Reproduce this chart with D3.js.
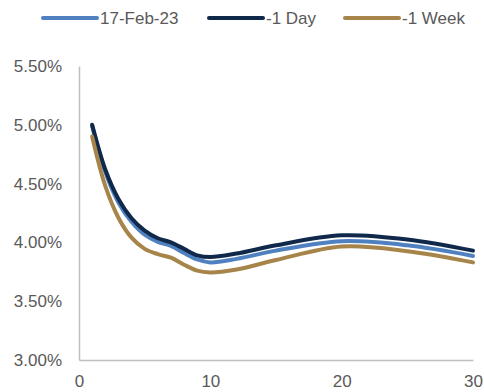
<!DOCTYPE html>
<html>
<head>
<meta charset="utf-8">
<script src="https://cdn.jsdelivr.net/npm/d3@7"></script>
<style>
  html, body { margin: 0; padding: 0; background: #fff; }
  svg { display: block; }
  text { font-family: "Liberation Sans", Arial, sans-serif; }
</style>
</head>
<body>
<svg id="chart" width="484" height="392"></svg>
<script>
// ---- data ----
const maturities = [1, 2, 3, 4, 5, 6, 7, 8, 9, 10, 12, 15, 20, 25, 30];
const seriesNames = ["17-Feb-23", "-1 Day", "-1 Week"];
const feb17 = [4.99, 4.60, 4.34, 4.175, 4.065, 4.005, 3.97, 3.91, 3.855, 3.83, 3.86, 3.93, 4.01, 3.975, 3.885];
const day1  = [5.00, 4.62, 4.37, 4.205, 4.10, 4.035, 4.00, 3.945, 3.89, 3.875, 3.905, 3.975, 4.06, 4.025, 3.93];
const week1 = [4.90, 4.48, 4.21, 4.04, 3.945, 3.90, 3.87, 3.81, 3.76, 3.745, 3.77, 3.85, 3.965, 3.925, 3.83];
const yTicks = [3.0, 3.5, 4.0, 4.5, 5.0, 5.5];
const xTicks = [0, 10, 20, 30];
const colors = ["#4f81c0", "#10294b", "#a6844a"];

// ---- chart ----
const svg = d3.select("#chart");
const x = d3.scaleLinear().domain([0, 30]).range([79, 473]);
const y = d3.scaleLinear().domain([3, 5.5]).range([360, 66]);

const axisColor = "#bfbfbf";
const textColor = "#595959";

// y axis
const gy = svg.append("g").attr("transform", `translate(${x(0)},0)`)
  .call(d3.axisLeft(y).tickValues(yTicks).tickSize(0).tickPadding(17)
    .tickFormat(d => d3.format(".2f")(d) + "%"));
gy.select(".domain").attr("stroke", axisColor).attr("stroke-width", 1.5);
gy.selectAll("text").attr("fill", textColor).attr("font-size", 17)
  .attr("font-family", "Liberation Sans, Arial, sans-serif");

// x axis
const gx = svg.append("g").attr("transform", `translate(0,${y(3)})`)
  .call(d3.axisBottom(x).tickValues(xTicks).tickSize(0).tickPadding(15)
    .tickFormat(d3.format("d")));
gx.select(".domain").attr("stroke", axisColor).attr("stroke-width", 1.5);
gx.selectAll("text").attr("fill", textColor).attr("font-size", 17)
  .attr("font-family", "Liberation Sans, Arial, sans-serif");

// lines
const allSeries = [feb17, day1, week1];
const line = d3.line()
  .x((d, i) => x(maturities[i]))
  .y(d => y(d))
  .curve(d3.curveCatmullRom.alpha(0.5));

allSeries.forEach((vals, k) => {
  svg.append("path")
    .datum(vals)
    .attr("fill", "none")
    .attr("stroke", colors[k])
    .attr("stroke-width", 4)
    .attr("stroke-linejoin", "round")
    .attr("stroke-linecap", "round")
    .attr("d", line);
});

// legend
const legendItems = [
  { x1: 43, name: seriesNames[0], color: colors[0] },
  { x1: 209, name: seriesNames[1], color: colors[1] },
  { x1: 345, name: seriesNames[2], color: colors[2] }
];
const lg = svg.append("g");
legendItems.forEach(it => {
  lg.append("line")
    .attr("x1", it.x1).attr("x2", it.x1 + 54)
    .attr("y1", 18).attr("y2", 18)
    .attr("stroke", it.color).attr("stroke-width", 4)
    .attr("stroke-linecap", "round");
  lg.append("text")
    .attr("x", it.x1 + 57).attr("y", 18)
    .attr("dy", "0.35em")
    .attr("fill", textColor)
    .attr("font-size", 17)
    .text(it.name);
});
</script>
</body>
</html>
